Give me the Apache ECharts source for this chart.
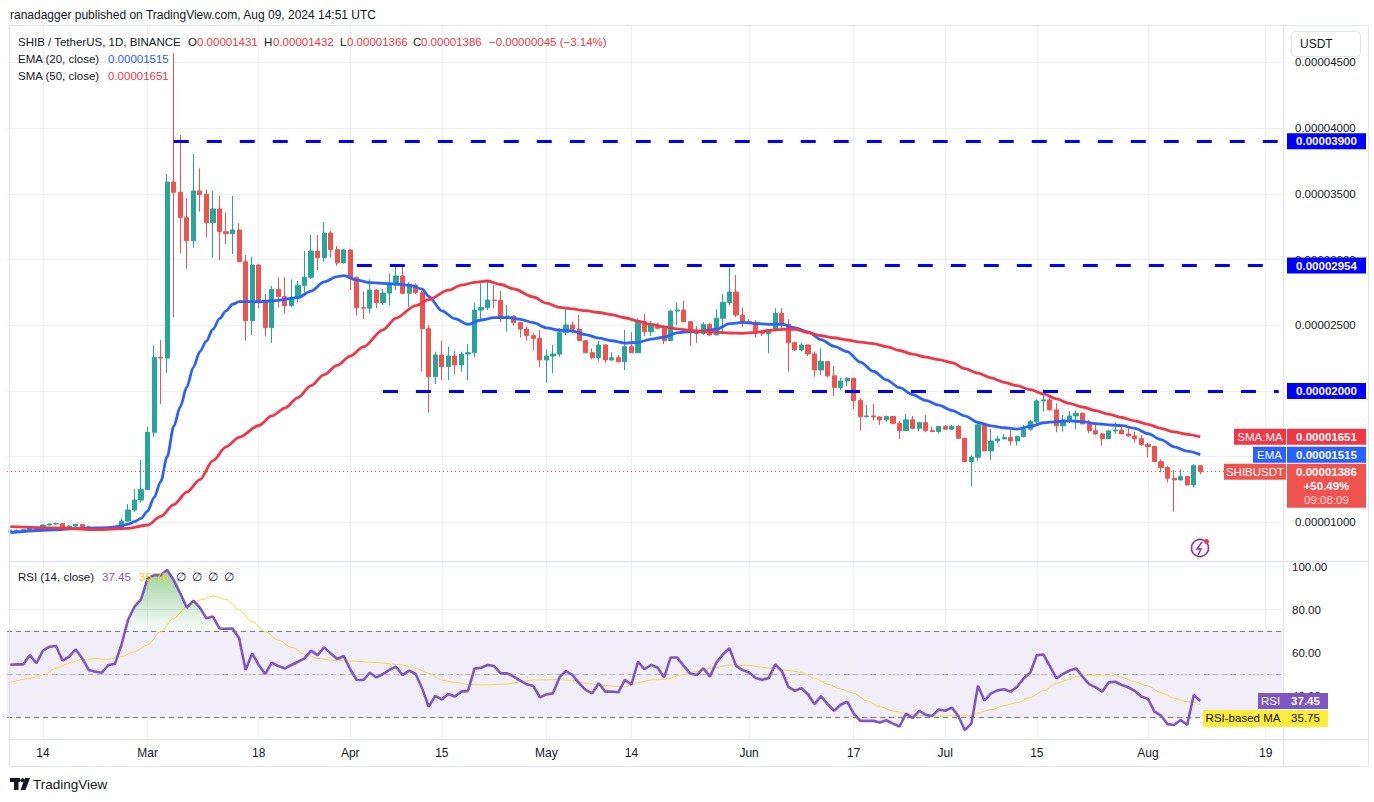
<!DOCTYPE html>
<html><head><meta charset="utf-8">
<script src="https://cdn.jsdelivr.net/npm/echarts@6/dist/echarts.min.js"></script>
<style>html,body{margin:0;padding:0;background:#fff;}#c{width:1374px;height:802px;}</style>
</head><body><div id="c"></div>
<script>
// All prices are in units of 1e-6 USDT
const firstCandleDate = '2024-02-09';
const axisEndDate = '2024-08-21';

// daily candles from Feb 9, 2024: [open, high, low, close]
const candles = [
 // Feb 9 - 29
 [9.32,9.40,9.25,9.36],[9.36,9.45,9.28,9.40],[9.40,9.50,9.33,9.44],[9.44,9.68,9.40,9.62],[9.62,9.66,9.44,9.50],
 [9.50,9.86,9.46,9.80],[9.80,9.95,9.76,9.88],[9.88,9.98,9.82,9.90],[9.90,9.93,9.52,9.58],[9.58,9.80,9.55,9.72],
 [9.72,9.90,9.68,9.84],[9.84,9.88,9.62,9.66],[9.66,9.70,9.40,9.46],[9.46,9.58,9.42,9.52],[9.52,9.56,9.40,9.45],
 [9.45,9.58,9.42,9.55],[9.55,9.68,9.50,9.62],[9.62,10.25,9.55,10.10],[10.10,11.40,10.00,10.94],[10.94,12.54,10.81,11.70],
 [11.70,14.74,11.52,12.51],
 // Mar
 [12.51,17.28,12.46,16.85],[16.85,23.47,16.52,22.56],[22.56,23.88,19.01,22.50],[22.50,36.51,21.39,35.90],[35.90,45.70,25.60,35.12],
 [35.12,39.48,30.47,33.19],[33.19,34.66,29.31,31.44],[31.44,38.03,30.90,35.22],[35.22,36.94,33.64,34.96],[34.96,35.34,31.69,32.81],
 [32.81,35.22,30.14,33.85],[33.85,34.84,29.97,32.12],[32.12,33.54,31.18,31.97],[31.97,34.84,30.42,32.25],[32.25,32.76,29.79,29.84],
 [29.84,30.35,23.83,25.35],[25.35,30.22,24.26,29.59],[29.59,29.60,26.29,26.79],[26.79,27.38,24.13,24.82],[24.82,27.99,23.67,27.73],
 [27.73,28.65,26.36,27.18],[27.18,28.65,25.91,26.49],[26.49,28.49,26.36,27.12],[27.12,28.37,26.74,28.04],[28.04,30.65,27.48,28.65],
 [28.65,31.87,28.52,30.65],[30.65,31.87,29.20,30.14],[30.14,32.86,29.84,32.02],[32.02,32.17,30.14,30.75],[30.75,31.03,29.53,29.76],
 [29.76,30.80,29.71,30.73],
 // Apr
 [30.73,30.80,27.68,28.65],[28.65,28.70,25.73,26.34],[26.34,27.56,25.48,26.30],[26.30,28.49,25.91,27.68],[27.68,27.76,26.29,26.72],
 [26.72,27.76,26.54,27.45],[27.45,28.95,26.54,28.22],[28.06,29.46,27.68,28.75],[28.75,29.46,27.38,27.43],[27.43,28.27,26.41,28.06],
 [28.06,28.19,27.38,27.48],[27.48,27.63,21.47,24.74],[24.74,25.02,18.35,21.09],[21.09,22.99,20.53,22.74],[22.74,23.80,20.83,21.85],
 [21.85,23.37,20.83,22.66],[22.66,23.04,21.29,21.98],[21.98,22.99,21.47,22.81],[22.81,23.57,20.83,22.91],[22.91,26.72,22.56,26.16],
 [26.16,28.19,25.40,26.34],[26.34,28.32,26.16,26.92],[26.92,28.06,26.29,26.88],[26.88,27.63,25.25,25.60],[25.60,26.54,24.51,25.70],
 [25.70,25.75,24.99,25.20],[25.20,25.27,24.06,24.71],[24.71,24.89,23.83,24.21],[24.21,24.38,23.12,24.00],[24.00,24.64,21.80,22.36],
 // May
 [22.36,23.17,20.63,22.66],[22.66,23.50,21.34,22.81],[22.81,24.77,22.61,24.44],[24.44,26.36,24.26,25.02],[25.02,25.27,24.39,24.69],
 [24.69,25.78,23.83,23.83],[23.83,23.88,22.91,22.91],[22.91,23.24,22.41,22.53],[22.53,23.80,22.28,23.50],[23.50,23.55,22.15,22.36],
 [22.36,22.94,22.30,22.53],[22.53,22.74,22.15,22.23],[22.23,24.64,21.59,23.37],[23.37,24.46,22.91,22.91],[22.91,25.53,22.91,25.27],
 [25.27,25.86,24.18,24.51],[24.51,25.35,24.18,25.02],[25.02,25.20,24.69,24.77],[24.77,25.02,23.57,23.83],[23.83,26.16,23.83,26.08],
 [26.08,26.72,25.02,26.16],[26.16,26.87,25.27,25.27],[25.27,25.32,23.42,24.59],[24.59,24.94,23.67,24.38],[24.38,25.25,24.26,25.07],
 [25.07,25.15,24.18,24.26],[24.26,26.21,24.26,25.53],[25.53,27.38,24.38,26.74],[26.74,29.41,26.54,27.53],[27.53,28.82,25.60,25.78],
 [25.78,26.36,24.89,25.27],
 // Jun
 [25.27,25.48,25.10,25.20],[25.20,25.40,24.08,24.56],[24.56,24.64,24.18,24.38],[24.38,24.64,22.86,24.64],[24.64,26.29,24.51,25.91],
 [25.91,26.29,24.56,25.07],[25.07,25.48,21.47,23.67],[23.67,23.75,23.04,23.12],[23.12,23.68,23.00,23.50],[23.50,23.52,22.67,22.82],
 [22.82,23.00,21.09,21.60],[21.60,23.25,21.22,22.24],[22.24,22.26,21.04,21.15],[21.15,21.91,19.62,20.26],[20.26,20.97,20.08,20.76],
 [20.76,21.04,20.38,20.97],[20.97,20.99,18.63,19.27],[19.27,19.45,16.98,18.05],[18.05,18.94,17.97,18.10],[18.10,19.01,17.75,18.02],
 [18.02,18.10,17.42,17.80],[17.80,18.13,17.67,18.05],[18.05,18.10,17.47,17.54],[17.54,17.72,16.35,16.98],[16.98,18.25,16.98,17.80],
 [17.80,18.10,17.11,17.16],[17.16,17.67,16.91,17.59],[17.59,18.18,16.86,16.98],[16.98,17.29,16.91,16.91],[16.91,17.34,16.78,17.29],
 // Jul
 [17.29,17.42,17.04,17.09],[17.09,17.42,17.04,17.29],[17.29,17.42,16.35,16.40],[16.40,16.45,14.55,14.63],[14.63,15.13,12.72,14.96],
 [14.96,17.54,14.70,17.42],[17.42,17.45,15.44,15.44],[15.44,17.09,14.75,16.20],[16.20,16.60,16.02,16.35],[16.35,16.70,16.33,16.45],
 [16.45,17.04,15.84,16.20],[16.20,16.60,15.84,16.53],[16.53,17.42,16.45,17.09],[17.09,17.79,16.98,17.67],[17.67,19.37,17.49,19.24],
 [19.24,20.13,18.43,19.32],[19.32,19.70,18.51,18.56],[18.56,19.06,16.86,17.36],[17.36,18.18,16.91,17.79],[17.79,18.48,17.54,18.10],
 [18.10,18.51,17.08,18.30],[18.30,18.35,17.49,17.49],[17.49,17.79,16.78,16.98],[16.98,17.54,16.65,16.73],[16.73,16.83,15.84,16.37],
 [16.37,17.03,16.35,16.96],[16.96,17.62,16.73,17.03],[17.03,17.41,16.73,16.73],[16.73,17.34,16.53,16.58],[16.58,16.91,16.07,16.37],
 [16.37,16.65,15.82,15.92],
 // Aug 1 - 9
 [15.92,16.07,14.93,15.77],[15.77,15.82,14.62,14.62],[14.62,14.80,13.81,14.17],[14.17,14.29,13.03,13.36],[13.36,13.99,10.82,13.23],
 [13.23,14.04,13.18,13.48],[13.48,13.53,12.80,12.85],[12.85,14.42,12.65,14.31],[14.31,14.32,13.66,13.86]
];

// RSI(14) daily values from Feb 9
const rsi = [
 54.3,54.5,54.5,58.8,55.0,60.9,62.7,63.0,56.2,58.1,61.5,57.3,51.9,51.1,50.6,54.2,54.7,63.5,75.1,81.3,84.7,
 94.5,96.0,96.0,98.4,93.7,87.5,80.9,84.1,80.9,75.9,76.7,71.2,71.0,71.2,66.6,51.9,59.6,54.2,50.0,55.3,53.7,52.6,54.2,55.7,57.3,60.9,58.8,62.4,59.6,57.0,58.4,
 52.2,47.2,47.2,50.6,48.4,50.0,51.9,53.4,49.5,51.6,50.0,43.3,34.8,39.8,38.2,40.7,39.5,41.8,42.1,52.5,52.9,54.2,53.7,50.3,50.3,48.8,46.9,45.2,44.4,39.1,
 40.5,41.0,48.4,51.4,49.5,45.7,42.6,41.0,45.7,41.8,41.8,41.5,47.3,45.1,55.8,52.2,54.2,53.0,48.4,57.7,57.7,53.8,50.2,49.5,52.7,48.8,55.3,59.2,62.0,53.8,51.8,
 50.7,48.1,47.3,48.1,54.5,51.4,44.0,42.2,43.4,40.6,36.0,39.7,36.0,32.9,35.7,37.1,31.6,28.2,28.2,28.2,27.4,28.5,26.9,25.6,31.6,29.5,32.9,31.0,30.5,33.5,
 32.9,34.4,30.5,23.9,27.0,44.5,37.6,41.0,42.4,42.9,41.8,44.1,48.0,50.6,58.8,59.1,53.7,48.0,50.0,51.6,52.6,48.8,45.3,43.8,41.8,46.1,46.4,44.9,43.8,42.1,39.5,
 38.4,32.5,30.6,26.7,26.3,28.6,26.3,40.2,37.45
];

// EMA(20)
const emaPoints = [
 ['2024-02-09',9.22],['2024-02-15',9.42],['2024-02-20',9.55],['2024-02-24',9.60],['2024-02-26',9.72],['2024-02-27',9.87],
 ['2024-02-28',10.05],['2024-02-29',10.31],['2024-03-01',10.85],['2024-03-02',11.90],['2024-03-03',13.10],['2024-03-04',15.00],
 ['2024-03-05',17.30],['2024-03-06',18.80],['2024-03-07',20.30],['2024-03-08',21.80],['2024-03-09',23.00],['2024-03-10',23.80],
 ['2024-03-11',24.70],['2024-03-12',25.50],['2024-03-13',26.10],['2024-03-14',26.60],['2024-03-15',26.80],['2024-03-18',26.79],
 ['2024-03-21',26.90],['2024-03-24',27.10],['2024-03-26',27.60],['2024-03-28',28.30],['2024-03-30',28.70],['2024-03-31',28.77],
 ['2024-04-02',28.44],['2024-04-04',28.24],['2024-04-08',28.14],['2024-04-10',28.06],['2024-04-12',27.75],['2024-04-13',27.20],
 ['2024-04-15',26.10],['2024-04-17',25.50],['2024-04-19',25.07],['2024-04-21',25.40],['2024-04-23',25.58],['2024-04-25',25.58],
 ['2024-04-27',25.45],['2024-04-29',25.20],['2024-05-01',24.80],['2024-05-03',24.62],['2024-05-05',24.56],['2024-05-07',24.28],
 ['2024-05-09',24.02],['2024-05-11',23.82],['2024-05-13',23.64],['2024-05-15',23.70],['2024-05-17',23.95],['2024-05-19',24.10],
 ['2024-05-21',24.42],['2024-05-23',24.52],['2024-05-25',24.57],['2024-05-27',24.70],['2024-05-29',25.12],['2024-05-31',25.22],
 ['2024-06-02',25.14],['2024-06-04',25.07],['2024-06-06',25.08],['2024-06-08',24.80],['2024-06-10',24.50],['2024-06-12',23.90],
 ['2024-06-14',23.40],['2024-06-16',23.00],['2024-06-18',22.20],['2024-06-20',21.50],['2024-06-22',20.85],['2024-06-24',20.25],
 ['2024-06-26',19.72],['2024-06-28',19.28],['2024-06-30',18.92],['2024-07-02',18.52],['2024-07-04',18.10],['2024-07-06',17.60],
 ['2024-07-08',17.35],['2024-07-10',17.20],['2024-07-12',17.10],['2024-07-14',17.30],['2024-07-16',17.58],['2024-07-18',17.67],
 ['2024-07-20',17.72],['2024-07-22',17.67],['2024-07-24',17.52],['2024-07-26',17.42],['2024-07-28',17.36],['2024-07-30',17.15],
 ['2024-08-01',16.75],['2024-08-03',16.30],['2024-08-05',15.75],['2024-08-07',15.42],['2024-08-09',15.15]
];

// SMA(50)
const smaPoints = [
 ['2024-02-09',9.67],['2024-02-16',9.58],['2024-02-22',9.45],['2024-02-27',9.54],['2024-03-01',9.80],['2024-03-03',10.45],
 ['2024-03-05',11.35],['2024-03-07',12.30],['2024-03-09',13.25],['2024-03-11',14.70],['2024-03-13',15.75],['2024-03-15',16.47],
 ['2024-03-18',17.37],['2024-03-20',18.10],['2024-03-22',18.70],['2024-03-24',19.50],['2024-03-26',20.40],['2024-03-28',21.25],
 ['2024-03-30',21.95],['2024-04-01',22.65],['2024-04-03',23.35],['2024-04-06',24.65],['2024-04-08',25.55],['2024-04-11',26.50],
 ['2024-04-13',26.95],['2024-04-16',27.67],['2024-04-18',28.05],['2024-04-20',28.27],['2024-04-22',28.37],['2024-04-24',28.10],
 ['2024-04-26',27.76],['2024-04-29',27.15],['2024-05-01',26.68],['2024-05-03',26.36],['2024-05-05',26.25],['2024-05-07',26.11],
 ['2024-05-09',25.97],['2024-05-11',25.80],['2024-05-13',25.57],['2024-05-15',25.32],['2024-05-17',25.07],['2024-05-19',24.88],
 ['2024-05-21',24.73],['2024-05-23',24.61],['2024-05-25',24.52],['2024-05-27',24.47],['2024-05-29',24.41],['2024-05-31',24.39],
 ['2024-06-02',24.45],['2024-06-04',24.60],['2024-06-06',24.69],['2024-06-08',24.70],['2024-06-10',24.45],['2024-06-12',24.20],
 ['2024-06-14',24.05],['2024-06-16',23.88],['2024-06-18',23.72],['2024-06-20',23.60],['2024-06-22',23.38],['2024-06-24',23.08],
 ['2024-06-26',22.80],['2024-06-28',22.58],['2024-06-30',22.38],['2024-07-02',22.15],['2024-07-04',21.70],['2024-07-06',21.35],
 ['2024-07-08',21.00],['2024-07-10',20.65],['2024-07-12',20.40],['2024-07-14',20.10],['2024-07-16',19.78],['2024-07-18',19.40],
 ['2024-07-20',19.05],['2024-07-22',18.78],['2024-07-24',18.50],['2024-07-26',18.23],['2024-07-28',17.98],['2024-07-30',17.72],
 ['2024-08-01',17.46],['2024-08-03',17.15],['2024-08-05',16.88],['2024-08-07',16.70],['2024-08-09',16.51]
];

// RSI-based MA
const rsiMaPoints = [
 ['2024-02-09',46.0],['2024-02-12',48.0],['2024-02-14',49.5],['2024-02-16',52.6],['2024-02-18',55.0],['2024-02-20',56.8],
 ['2024-02-22',57.1],['2024-02-24',56.8],['2024-02-26',58.1],['2024-02-28',60.4],['2024-03-01',63.5],['2024-03-03',69.7],
 ['2024-03-05',75.9],['2024-03-07',81.3],['2024-03-09',84.4],['2024-03-11',86.3],['2024-03-13',84.7],['2024-03-15',79.8],
 ['2024-03-17',74.3],['2024-03-19',69.7],['2024-03-21',65.8],['2024-03-23',62.4],['2024-03-25',59.3],['2024-03-27',57.3],
 ['2024-03-29',56.5],['2024-04-01',56.0],['2024-04-05',55.3],['2024-04-09',54.2],['2024-04-11',52.6],['2024-04-13',50.3],
 ['2024-04-15',47.2],['2024-04-17',46.1],['2024-04-19',45.2],['2024-04-21',44.9],['2024-04-25',45.3],['2024-04-27',46.4],
 ['2024-04-29',47.2],['2024-05-03',47.5],['2024-05-05',46.9],['2024-05-07',45.7],['2024-05-09',44.9],['2024-05-11',44.4],
 ['2024-05-13',44.0],['2024-05-15',46.0],['2024-05-17',47.2],['2024-05-19',47.5],['2024-05-22',49.8],['2024-05-24',51.4],
 ['2024-05-27',53.1],['2024-05-29',54.2],['2024-06-01',54.0],['2024-06-03',53.1],['2024-06-05',52.5],['2024-06-07',51.6],
 ['2024-06-09',50.8],['2024-06-11',48.0],['2024-06-13',45.3],['2024-06-15',43.0],['2024-06-17',41.0],['2024-06-19',37.6],
 ['2024-06-21',34.8],['2024-06-23',32.8],['2024-06-25',31.7],['2024-06-27',30.8],['2024-06-29',30.3],['2024-07-01',30.5],
 ['2024-07-03',30.8],['2024-07-05',30.5],['2024-07-06',32.0],['2024-07-08',33.4],['2024-07-10',35.3],['2024-07-12',36.7],
 ['2024-07-14',39.1],['2024-07-16',42.2],['2024-07-18',45.7],['2024-07-20',47.5],['2024-07-21',48.8],['2024-07-23',49.4],
 ['2024-07-25',49.5],['2024-07-27',49.5],['2024-07-28',48.4],['2024-07-30',46.4],['2024-08-01',44.4],['2024-08-03',41.3],
 ['2024-08-05',38.7],['2024-08-07',37.1],['2024-08-08',36.7],['2024-08-09',35.75]
];

// horizontal levels (blue dashed) and where they start
const levelValues = [39.00, 29.54, 20.00];
const levelStarts = ['2024-03-05', '2024-04-02', '2024-04-06'];

// axis ticks
const priceTicks = [10, 15, 20, 25, 30, 35, 40, 45];
const rsiTicks = [40, 60, 80, 100];
const xTickDates = ['2024-02-14','2024-03-01','2024-03-18','2024-04-01','2024-04-15','2024-05-01','2024-05-14',
                    '2024-06-01','2024-06-17','2024-07-01','2024-07-15','2024-08-01','2024-08-19'];
const xTickLabels = ['14','Mar','18','Apr','15','May','14','Jun','17','Jul','15','Aug','19'];

// last values shown in the scale labels
const lastPrice = 13.86, lastEma = 15.15, lastSma = 16.51, lastRsi = 37.45, lastRsiMa = 35.75;

// ---------------------------------------------------------------
const FONT = '"Liberation Sans", Arial, sans-serif';
function buildDays(a, b) {
  const out = []; let t = Date.parse(a + 'T00:00:00Z'); const e = Date.parse(b + 'T00:00:00Z');
  while (t <= e) { out.push(new Date(t).toISOString().slice(0, 10)); t += 86400000; }
  return out;
}
const categories = buildDays(firstCandleDate, axisEndDate);
const tickLabelOf = {}; xTickDates.forEach((d, i) => tickLabelOf[d] = xTickLabels[i]);
const fmtPrice = v => (v / 1e6).toFixed(8);
const gridLineStyle = { color: '#eef0f4', width: 1, type: 'solid' };

const chart = echarts.init(document.getElementById('c'), null, { renderer: 'svg' });

const option = {
  animation: false,
  backgroundColor: '#ffffff',
  textStyle: { fontFamily: FONT },
  grid: [
    { left: 7, right: 92, top: 25, height: 536, containLabel: false, outerBoundsMode: 'none' },
    { left: 7, right: 92, top: 562, height: 177, containLabel: false, outerBoundsMode: 'none' }
  ],
  xAxis: [
    { type: 'category', gridIndex: 0, data: categories, boundaryGap: true,
      axisLine: { show: false }, axisTick: { show: false }, axisLabel: { show: false }, splitLine: { show: false } },
    { type: 'category', gridIndex: 1, data: categories, boundaryGap: true,
      axisLine: { show: false }, axisTick: { show: false }, splitLine: { show: false },
      axisLabel: { show: true, interval: (i, v) => tickLabelOf[v] !== undefined, formatter: v => tickLabelOf[v] || '',
                   color: '#131722', fontSize: 12, margin: 8, fontFamily: FONT } }
  ],
  yAxis: [
    { type: 'value', gridIndex: 0, position: 'right', min: 7.06, max: 47.85, scale: true,
      axisLine: { show: false }, axisTick: { show: false, customValues: priceTicks }, splitLine: { show: false },
      axisLabel: { customValues: priceTicks, formatter: v => fmtPrice(v), color: '#131722', fontSize: 11.5, margin: 13, fontFamily: FONT } },
    { type: 'value', gridIndex: 1, position: 'right', min: 19.77, max: 102.1, scale: true,
      axisLine: { show: false }, axisTick: { show: false, customValues: rsiTicks }, splitLine: { show: false },
      axisLabel: { customValues: rsiTicks, formatter: v => v.toFixed(2), color: '#131722', fontSize: 11.5, margin: 10, fontFamily: FONT } }
  ],
  series: [
    { name: 'SHIBUSDT', type: 'candlestick', xAxisIndex: 0, yAxisIndex: 0, barWidth: '72%', silent: true,
      data: candles.map(c => [c[0], c[3], c[2], c[1]]),
      itemStyle: { color: '#26a69a', color0: '#ef5350', borderColor: '#26a69a', borderColor0: '#ef5350', borderColorDoji: '#26a69a', borderWidth: 1 },
      markLine: { silent: true, z: 1, symbol: ['none', 'none'], label: { show: false }, lineStyle: gridLineStyle, animation: false,
        emphasis: { disabled: true },
        data: [...xTickDates.map(d => ({ xAxis: d })), ...priceTicks.map(v => ({ yAxis: v }))] } },
    { name: 'EMA', type: 'line', xAxisIndex: 0, yAxisIndex: 0, data: emaPoints, smooth: 0.3, smoothMonotone: 'x',
      showSymbol: false, symbol: 'none', silent: true, z: 3, lineStyle: { color: '#2962ff', width: 2.8 } },
    { name: 'SMA', type: 'line', xAxisIndex: 0, yAxisIndex: 0, data: smaPoints, smooth: 0.3, smoothMonotone: 'x',
      showSymbol: false, symbol: 'none', silent: true, z: 3, lineStyle: { color: '#f23645', width: 2.8 },
      markLine: { silent: true, symbol: ['none', 'none'], label: { show: false }, animation: false, z: 6,
        emphasis: { disabled: true },
        lineStyle: { color: '#0000ff', width: 3, type: [15, 18] },
        data: [
          ...levelValues.map((v, i) => [{ coord: [levelStarts[i], v] }, { coord: [axisEndDate, v] }]),
          { yAxis: lastPrice, lineStyle: { color: '#ef5350', width: 1, type: [1, 3] } }
        ] } },
    { name: 'grid2', type: 'line', xAxisIndex: 1, yAxisIndex: 1, data: rsi.map(v => v > 70 ? v : null),
      showSymbol: false, symbol: 'none', silent: true, z: 2, connectNulls: false,
      lineStyle: { width: 0, opacity: 0 },
      areaStyle: { origin: 70, color: new echarts.graphic.LinearGradient(0, 0, 0, 1, [
        { offset: 0, color: 'rgba(76,175,80,0.8)' }, { offset: 1, color: 'rgba(76,175,80,0.04)' }]) },
      markLine: { silent: true, z: 1, symbol: ['none', 'none'], label: { show: false }, lineStyle: gridLineStyle, animation: false,
        emphasis: { disabled: true },
        data: [...xTickDates.map(d => ({ xAxis: d })), ...rsiTicks.map(v => ({ yAxis: v }))] } },
    { name: 'oversold', type: 'line', xAxisIndex: 1, yAxisIndex: 1, data: rsi.map(v => v < 30 ? v : null),
      showSymbol: false, symbol: 'none', silent: true, z: 2, connectNulls: false,
      lineStyle: { width: 0, opacity: 0 }, areaStyle: { origin: 30, color: 'rgba(242,54,69,0.12)' } },
    { name: 'RSI', type: 'line', xAxisIndex: 1, yAxisIndex: 1, data: rsi, showSymbol: false, symbol: 'none', silent: true, z: 4,
      lineStyle: { color: '#7e57c2', width: 2.6 },
      markArea: { silent: true, itemStyle: { color: 'rgba(126,87,194,0.1)' }, data: [[{ yAxis: 30 }, { yAxis: 70 }]] },
      markLine: { silent: true, z: 3, symbol: ['none', 'none'], label: { show: false }, animation: false,
        emphasis: { disabled: true },
        data: [
          { yAxis: 70, lineStyle: { color: '#787b86', width: 1, type: [5, 4] } },
          { yAxis: 50, lineStyle: { color: 'rgba(120,123,134,0.5)', width: 1, type: [5, 4] } },
          { yAxis: 30, lineStyle: { color: '#787b86', width: 1, type: [5, 4] } }
        ] } },
    { name: 'RSI-based MA', type: 'line', xAxisIndex: 1, yAxisIndex: 1, data: rsiMaPoints, smooth: 0.3, smoothMonotone: 'x',
      showSymbol: false, symbol: 'none', silent: true, z: 3, lineStyle: { color: '#fdd835', width: 1 } }
  ]
};
chart.setOption(option);

// ---------- overlays (text labels, boxes, frame) ----------
function txt(x, y, s, fill, o = {}) {
  const size = o.size || 11.5, weight = o.weight || 'normal', al = o.align || 'left';
  return { type: 'text', silent: true, z: o.z || 120,
    style: { text: s, x: x, y: y, fill: fill, font: weight + ' ' + size + 'px ' + FONT,
             textAlign: al, align: al, textVerticalAlign: 'middle', verticalAlign: 'middle' } };
}
function rect(x, y, w, h, fill, o = {}) {
  return { type: 'rect', silent: true, z: o.z || 110, shape: { x: x, y: y, width: w, height: h, r: o.r || 0 },
    style: { fill: fill, stroke: o.stroke || null, lineWidth: o.lw || 0 } };
}
function seg(x1, y1, x2, y2, color, w, z) {
  return { type: 'line', silent: true, z: z || 90, shape: { x1: x1, y1: y1, x2: x2, y2: y2 }, style: { stroke: color, lineWidth: w } };
}
const gy = v => chart.convertToPixel({ yAxisIndex: 0 }, v);
const ry = v => chart.convertToPixel({ yAxisIndex: 1 }, v);
const els = [];

// frame and panel separators
els.push(rect(9.5, 25.5, 1359, 741, 'rgba(0,0,0,0)', { stroke: '#e0e3eb', lw: 1, z: 5 }));
els.push(seg(9.5, 561.5, 1368.5, 561.5, '#e0e3eb', 1.5, 6));
els.push(seg(9.5, 739.5, 1368.5, 739.5, '#e0e3eb', 1, 6));
els.push(seg(1283.5, 25.5, 1283.5, 766.5, '#e0e3eb', 1, 6));

// header texts
els.push(txt(10, 15, 'ranadagger published on TradingView.com, Aug 09, 2024 14:51 UTC', '#131722', { size: 12 }));
els.push(txt(18, 42, 'SHIB / TetherUS, 1D, BINANCE', '#131722'));
const ohlcRed = '#f23645';
els.push(txt(188, 42, 'O', '#131722')); els.push(txt(197, 42, fmtPrice(14.31), ohlcRed));
els.push(txt(264, 42, 'H', '#131722')); els.push(txt(273, 42, fmtPrice(14.32), ohlcRed));
els.push(txt(340, 42, 'L', '#131722')); els.push(txt(347, 42, fmtPrice(13.66), ohlcRed));
els.push(txt(413, 42, 'C', '#131722')); els.push(txt(421, 42, fmtPrice(13.86), ohlcRed));
els.push(txt(489, 42, '\u22120.00000045 (\u22123.14%)', ohlcRed));
els.push(txt(18, 59, 'EMA (20, close)', '#131722')); els.push(txt(108, 59, fmtPrice(lastEma), '#2962ff'));
els.push(txt(18, 76, 'SMA (50, close)', '#131722')); els.push(txt(108, 76, fmtPrice(lastSma), '#f23645'));

// RSI header
els.push(txt(18, 577, 'RSI (14, close)', '#131722'));
els.push(txt(102, 577, lastRsi.toFixed(2), '#7e57c2'));
els.push(txt(139, 577, lastRsiMa.toFixed(2), '#f5d000'));
['\u2205', '\u2205', '\u2205', '\u2205'].forEach((s, i) => els.push(txt(176 + i * 16, 577, s, '#131722')));

// USDT button
els.push(rect(1291.5, 31.5, 69, 25, '#ffffff', { stroke: '#e0e3eb', lw: 1, r: 4 }));
els.push(txt(1300, 44, 'USDT', '#131722', { size: 12 }));

// level boxes
levelValues.forEach(v => {
  const y = gy(v);
  els.push(rect(1287, y - 8, 79, 16, '#0000ff'));
  els.push(txt(1326.5, y, fmtPrice(v), '#ffffff', { align: 'center', weight: 'bold' }));
});
// SMA / EMA / price labels
(function () {
  let y = gy(lastSma);
  els.push(rect(1234, y - 8, 52, 16, '#f23645')); els.push(txt(1260, y, 'SMA:MA', '#ffffff', { align: 'center' }));
  els.push(rect(1287, y - 8, 79, 16, '#f23645')); els.push(txt(1326.5, y, fmtPrice(lastSma), '#ffffff', { align: 'center', weight: 'bold' }));
  y = gy(lastEma);
  els.push(rect(1253, y - 8, 33, 16, '#2962ff')); els.push(txt(1269.5, y, 'EMA', '#ffffff', { align: 'center' }));
  els.push(rect(1287, y - 8, 79, 16, '#2962ff')); els.push(txt(1326.5, y, fmtPrice(lastEma), '#ffffff', { align: 'center', weight: 'bold' }));
  y = gy(lastPrice);
  els.push(rect(1224, y - 8, 62, 16, '#ef5350')); els.push(txt(1255, y, 'SHIBUSDT', '#ffffff', { align: 'center' }));
  els.push(rect(1287, y - 8, 79, 44, '#ef5350'));
  els.push(txt(1326.5, y, fmtPrice(lastPrice), '#ffffff', { align: 'center', weight: 'bold' }));
  els.push(txt(1326.5, y + 14, '+50.49%', '#ffffff', { align: 'center', weight: 'bold' }));
  els.push(txt(1326.5, y + 28, '09:08:09', 'rgba(255,255,255,0.8)', { align: 'center' }));
  // RSI labels
  const r = ry(lastRsi);
  els.push(rect(1258, r - 8, 25, 16, '#7e57c2')); els.push(txt(1270.5, r, 'RSI', '#ffffff', { align: 'center' }));
  els.push(rect(1283, r - 8, 45, 16, '#7e57c2')); els.push(txt(1305.5, r, lastRsi.toFixed(2), '#ffffff', { align: 'center', weight: 'bold' }));
  const m = r + 17;
  els.push(rect(1203, m - 8, 80, 17, '#ffeb3b')); els.push(txt(1243, m, 'RSI-based MA', '#131722', { align: 'center' }));
  els.push(rect(1283, m - 8, 45, 17, '#ffeb3b')); els.push(txt(1305.5, m, lastRsiMa.toFixed(2), '#131722', { align: 'center' }));
})();

// lightning badge
els.push({ type: 'circle', silent: true, z: 110, shape: { cx: 1200, cy: 548, r: 8.5 }, style: { fill: '#ffffff', stroke: '#9c27b0', lineWidth: 1.6 } });
els.push({ type: 'polyline', silent: true, z: 111, shape: { points: [[1202, 542], [1197, 549], [1201, 549], [1198, 555]] },
  style: { fill: null, stroke: '#9c27b0', lineWidth: 1.5 } });
els.push({ type: 'circle', silent: true, z: 112, shape: { cx: 1206.5, cy: 541.5, r: 2.5 }, style: { fill: '#f23645' } });

// TradingView logo
els.push(rect(10, 778, 10, 4, '#131722', { z: 110 }));
els.push(rect(14, 778, 4.5, 12, '#131722', { z: 110 }));
els.push({ type: 'circle', silent: true, z: 110, shape: { cx: 22.5, cy: 780.2, r: 2.1 }, style: { fill: '#131722' } });
els.push({ type: 'polygon', silent: true, z: 110, shape: { points: [[25, 778], [30, 778], [25.5, 790], [20.5, 790]] }, style: { fill: '#131722' } });
els.push(txt(33, 784.5, 'TradingView', '#131722', { size: 13.5 }));

chart.setOption({ graphic: { elements: els } });
</script>
</body></html>
